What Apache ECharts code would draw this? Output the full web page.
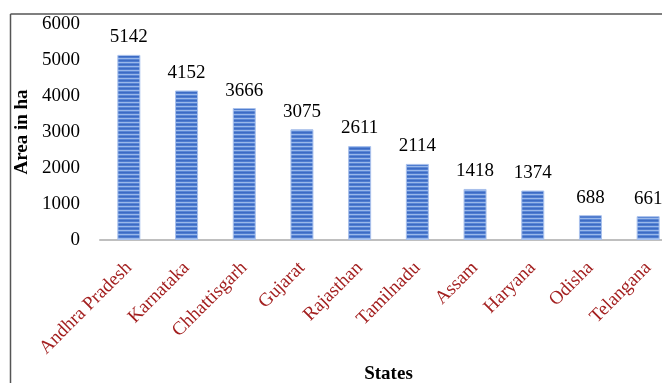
<!DOCTYPE html>
<html>
<head>
<meta charset="utf-8">
<script src="https://cdn.jsdelivr.net/npm/echarts@6/dist/echarts.min.js"></script>
<style>
  body { margin: 0; background: #fff; }
  #main { width: 662px; height: 383px; }
</style>
</head>
<body>
<div id="main"></div>
<script>
// data
var states = ["Andhra Pradesh", "Karnataka", "Chhattisgarh", "Gujarat", "Rajasthan",
  "Tamilnadu", "Assam", "Haryana", "Odisha", "Telangana"];
var area = [5142, 4152, 3666, 3075, 2611, 2114, 1418, 1374, 688, 661];
var yTicks = [0, 1000, 2000, 3000, 4000, 5000, 6000];

var FONT = "'Liberation Serif', 'Times New Roman', serif";

// striped fill for the bars
function stripes() {
  var c = document.createElement("canvas");
  c.width = 4;
  c.height = 4;
  var ctx = c.getContext("2d");
  var rows = ["#3d6bc4", "#4f7dd0", "#9ab8ea", "#5a87d6"];
  for (var i = 0; i < rows.length; i++) {
    ctx.fillStyle = rows[i];
    ctx.fillRect(0, i, 4, 1);
  }
  return c;
}

var myChart = echarts.init(document.getElementById("main"));

var option = {
  animation: false,
  textStyle: { fontFamily: FONT },
  grid: { left: 100, right: -15, top: 24, bottom: 143, containLabel: false, outerBoundsMode: "none" },
  graphic: [
    { type: "line", shape: { x1: 10.5, y1: 14, x2: 662, y2: 14 }, style: { stroke: "#555", lineWidth: 1.5 } },
    { type: "line", shape: { x1: 10.5, y1: 14, x2: 10.5, y2: 383 }, style: { stroke: "#555", lineWidth: 1.5 } }
  ],
  xAxis: {
    type: "category",
    data: states,
    name: "States",
    nameLocation: "middle",
    nameGap: 124,
    nameTextStyle: { fontFamily: FONT, fontWeight: "bold", fontSize: 19, color: "#000" },
    axisLine: { lineStyle: { color: "#bfbfbf", width: 2 } },
    axisTick: { show: false },
    axisLabel: { rotate: 45, color: "#a31f1f", fontFamily: FONT, fontSize: 19, margin: 25, interval: 0 }
  },
  yAxis: {
    type: "value",
    min: yTicks[0],
    max: yTicks[yTicks.length - 1],
    interval: 1000,
    name: "Area in ha",
    nameLocation: "middle",
    nameGap: 67,
    nameTextStyle: { fontFamily: FONT, fontWeight: "bold", fontSize: 19, color: "#000" },
    axisLine: { show: false },
    axisTick: { show: false },
    splitLine: { show: false },
    axisLabel: { color: "#000", fontFamily: FONT, fontSize: 19, margin: 20, formatter: function (v) { return String(v); } }
  },
  series: [
    {
      type: "bar",
      data: area,
      barWidth: 23,
      itemStyle: {
        color: { image: stripes(), repeat: "repeat" },
        borderColor: "#a9c1ec",
        borderWidth: 1
      },
      label: {
        show: true,
        position: "top",
        distance: 8,
        color: "#000",
        fontFamily: FONT,
        fontSize: 19
      }
    }
  ]
};
myChart.setOption(option);
</script>
</body>
</html>
